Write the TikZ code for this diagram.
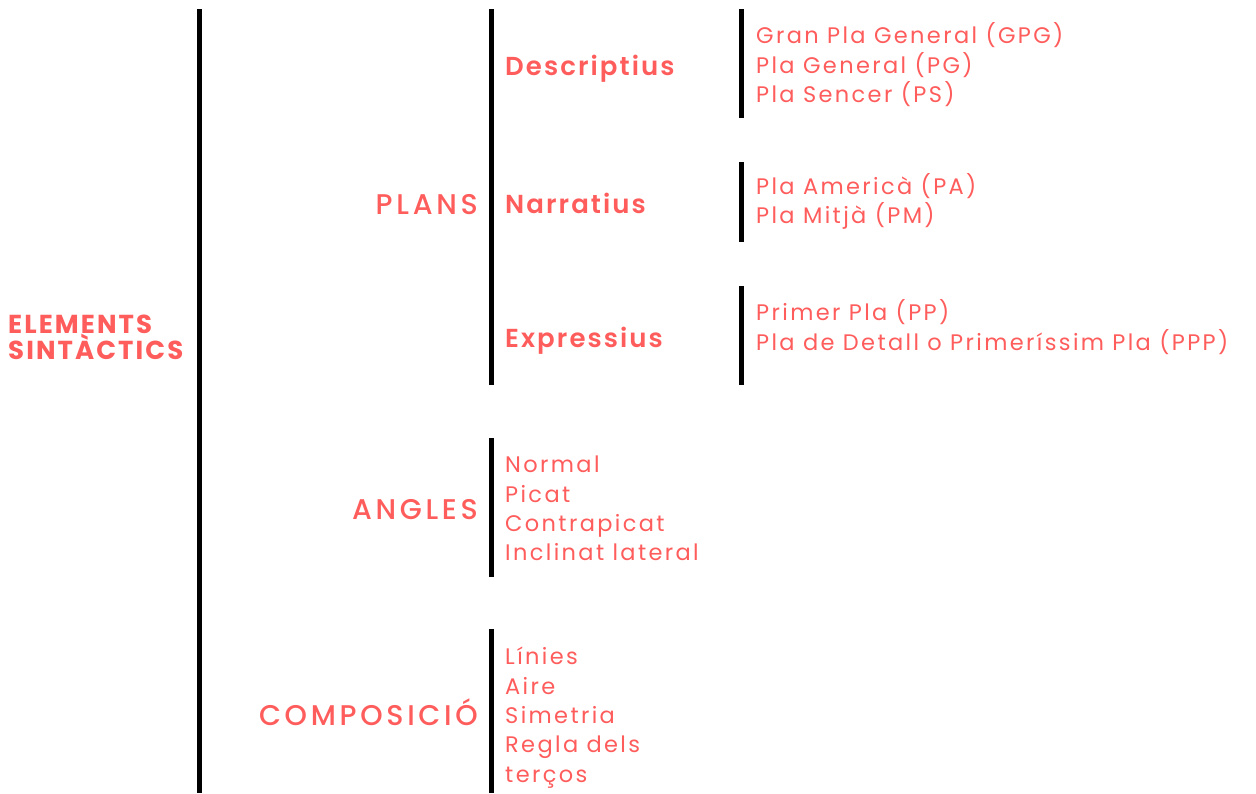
\documentclass[tikz,border=0pt]{standalone}
\usepackage{fontspec}
\setmainfont{Poppins}[LetterSpace=10.5]
\newfontfamily\medfont{Poppins Medium}[LetterSpace=13]
\newfontfamily\boldfont{Poppins SemiBold}[LetterSpace=8]
\newfontfamily\heavyfont{Poppins Bold}[LetterSpace=8]
\definecolor{coral}{HTML}{FF5C5C}
\begin{document}
\begin{tikzpicture}[x=1pt,y=-1pt,
  bar/.style={line width=5pt,black},
  root/.style={font=\heavyfont\fontsize{26}{29}\selectfont,text=coral,inner sep=0pt,anchor=base west},
  group/.style={font=\medfont\fontsize{28.5}{32}\selectfont,text=coral,inner sep=0pt,anchor=base east},
  kind/.style={font=\boldfont\fontsize{26}{30}\selectfont,text=coral,inner sep=0pt,anchor=base west},
  item/.style={font=\fontsize{22.5}{26}\selectfont,text=coral,inner sep=0pt,anchor=base west}]
\useasboundingbox (0,0) rectangle (1256,793);
% root label, two lines
\node[root] (root1) at (8,333) {ELEMENTS};
\node[root] (root2) at (8,359) {SINTÀCTICS};
% main brace bar
\coordinate (b1t) at (199,9); \coordinate (b1b) at (199,793);
\draw[bar] (b1t) -- (b1b);
% group labels
\node[group] (plans) at (478,214) {PLANS};
\node[group] (angles) at (478,519) {ANGLES};
\node[group] (comp) at (478,725) {COMPOSICIÓ};
% group bars
\coordinate (p1) at (491,9); \coordinate (p2) at (491,385);
\draw[bar] (p1) -- (p2);
\coordinate (a1) at (491,438); \coordinate (a2) at (491,577);
\draw[bar] (a1) -- (a2);
\coordinate (c1) at (491,629); \coordinate (c2) at (491,793);
\draw[bar] (c1) -- (c2);
% shot kinds
\node[kind] (desc) at (505,75) {Descriptius};
\node[kind] (narr) at (505,213) {Narratius};
\node[kind] (expr) at (505,347) {Expressius};
% kind bars
\coordinate (d1) at (741,9); \coordinate (d2) at (741,118);
\draw[bar] (d1) -- (d2);
\coordinate (n1) at (741,162); \coordinate (n2) at (741,242);
\draw[bar] (n1) -- (n2);
\coordinate (e1) at (741,286); \coordinate (e2) at (741,385);
\draw[bar] (e1) -- (e2);
% shot lists
\node[item] (gpg) at (756,43) {Gran Pla General (GPG)};
\node[item] (pg) at (756,73) {Pla General (PG)};
\node[item] (ps) at (756,102) {Pla Sencer (PS)};
\node[item] (pa) at (756,194) {Pla Americà (PA)};
\node[item] (pm) at (756,223) {Pla Mitjà (PM)};
\node[item] (pp) at (756,320) {Primer Pla (PP)};
\node[item] (ppp) at (756,350) {Pla de Detall o Primeríssim Pla (PPP)};
% angles
\node[item] (an1) at (505,472) {Normal};
\node[item] (an2) at (505,502) {Picat};
\node[item] (an3) at (505,531) {Contrapicat};
\node[item] (an4) at (505,560) {Inclinat lateral};
% composition
\node[item] (co1) at (505,664) {Línies};
\node[item] (co2) at (505,694) {Aire};
\node[item] (co3) at (505,723) {Simetria};
\node[item] (co4) at (505,752) {Regla dels};
\node[item] (co5) at (505,782) {terços};
\end{tikzpicture}
\end{document}
